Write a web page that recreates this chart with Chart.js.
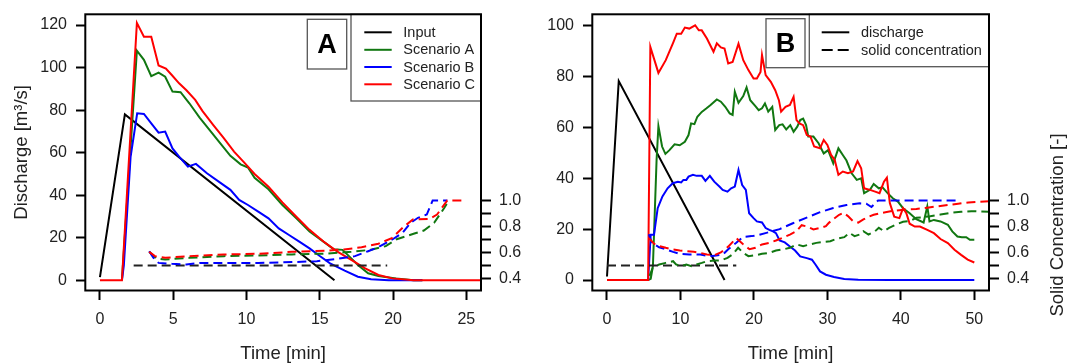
<!DOCTYPE html>
<html>
<head>
<meta charset="utf-8">
<script src="https://cdn.jsdelivr.net/npm/chart.js@4.4.0/dist/chart.umd.min.js"></script>
<style>
  body { margin: 0; background: #fff; }
  #wrap { position: relative; width: 1067px; height: 363px; }
  canvas { position: absolute; top: 0; }
  #chartA { left: 0; }
  #chartB { left: 533px; }
</style>
</head>
<body>
<div id="wrap">
  <canvas id="chartA" width="533" height="363"></canvas>
  <canvas id="chartB" width="534" height="363"></canvas>
</div>
<script>
// ---- panel A : discharge [m3/s] over time [min] ----
var aInput = [[0,1.5],[1.7,78],[16,0]];
var aScenA = [[1.5,0],[2.52,107.9],[3.0,103.6],[3.5,96],[4.0,97.6],[4.45,95.7],[4.95,88.7],[5.5,88.4],[6.1,83.2],[6.8,76.5],[7.5,70.5],[8.2,64.5],[8.9,58.5],[9.6,54.5],[10.1,53],[10.55,48.2],[11.5,42.8],[12.45,35.4],[13.4,29.1],[14.3,22.9],[15.25,18.2],[15.95,14.6],[16.55,14.3],[17.15,10.3],[17.6,7.2],[18.3,3.3],[19,2],[20.2,0.8],[21.4,0],[22,0]];
var aScenB = [[1.5,0],[1.63,7],[2.09,58],[2.54,78.5],[3.0,78.2],[3.5,73.8],[4.0,69.4],[4.45,69.9],[4.95,62],[5.4,58.1],[6.0,53.4],[6.55,54.7],[7.3,50.3],[8.2,45.9],[8.9,42.5],[9.5,37.8],[10.1,35.4],[10.8,32.3],[11.5,29.1],[12.2,24.4],[12.9,21.3],[13.6,18.2],[14.3,15],[15.0,11.4],[15.7,8],[16.7,4.5],[17.6,1.7],[18.5,0.5],[19.7,0],[22,0]];
var aScenC = [[0,0],[1.5,0],[2.52,121],[3.0,114.5],[3.5,114.5],[4.0,101],[4.5,99.5],[4.9,96.5],[5.4,92.6],[5.9,89.3],[6.5,84.8],[7.0,79.5],[7.75,72.8],[8.45,66.8],[9.15,60.5],[9.85,55.3],[10.55,50],[11.5,44],[12.45,36.6],[13.4,29.9],[14.3,23.7],[15.25,18.2],[16.2,13.5],[17.15,9.6],[18.1,5.6],[19.0,2.5],[19.95,0.9],[21.4,0],[26,0]];
// ---- panel A : solid concentration [-] ----
var aConcInput = [[2.3,0.5],[19.6,0.5]];
var aConcA = [[3.36,0.605],[3.85,0.554],[4.45,0.546],[6.1,0.559],[8.45,0.572],[10.8,0.577],[13.1,0.585],[15.5,0.592],[17.15,0.605],[18.5,0.621],[19.5,0.649],[20.2,0.7],[21.4,0.744],[22.1,0.769],[22.8,0.828],[23.5,0.944],[23.8,1.0]];
var aConcB = [[3.36,0.61],[3.64,0.56],[4.0,0.52],[4.9,0.513],[5.9,0.508],[6.8,0.52],[10.8,0.52],[13.1,0.526],[14.8,0.533],[16.2,0.551],[17.4,0.572],[18.3,0.61],[19.0,0.641],[19.95,0.7],[20.65,0.751],[21.2,0.828],[21.7,0.867],[22.3,0.892],[22.7,1.0],[23.7,1.0]];
var aConcC = [[3.36,0.605],[3.75,0.572],[4.45,0.559],[6.1,0.572],[8.45,0.585],[10.8,0.59],[13.1,0.605],[15.5,0.615],[16.65,0.623],[17.85,0.641],[19.0,0.667],[19.95,0.713],[20.65,0.79],[21.35,0.854],[22.5,0.859],[23.0,0.892],[23.7,1.0],[24.9,1.0]];

// ---- panel B : discharge ----
var bInput = [[0,1.4],[1.6,78.1],[16,0]];
var bScenA = [[0,0],[5.6,0],[5.95,0.5],[6.25,5.4],[6.75,47.1],[7.0,60.4],[7.5,52.4],[7.95,49.5],[8.5,51],[9.2,53.3],[9.9,52.9],[10.6,54.3],[11.1,56.9],[11.45,61.5],[11.9,61.2],[12.3,64.1],[12.9,66],[13.55,67.4],[14.1,68.7],[14.95,70.9],[15.5,70],[16.1,68],[16.7,65.4],[17.1,64.8],[17.4,73.9],[17.9,69.6],[18.55,72.2],[19.0,75.6],[19.5,70.6],[20.2,68.3],[20.65,66.7],[21.1,67.4],[21.5,69.3],[21.95,66.1],[22.5,68],[22.9,58.9],[23.45,60.8],[23.9,61.1],[24.4,59.1],[24.95,60.8],[25.4,58.2],[25.9,60.2],[26.3,62.8],[26.7,63.4],[27.1,60.8],[27.4,56.3],[28.1,56.3],[28.8,53.7],[29.5,49.7],[30.1,51],[30.8,45.8],[31.5,51.7],[32.1,49.1],[32.6,46.9],[33.3,41.9],[34.0,39.3],[34.6,39.9],[35.0,34.1],[35.8,35.4],[36.3,37.7],[37.0,36],[37.5,36.4],[38.2,34.1],[38.9,32.1],[39.6,30.8],[40.3,28.2],[41.2,26.2],[42.1,23.9],[43.1,22.6],[43.6,28.9],[43.9,23],[44.5,23.6],[45.4,23],[46.4,21.7],[47.0,19.1],[47.7,17.1],[48.3,16.8],[48.9,16.8],[49.4,15.8],[50,15.8]];
var bScenB = [[0,0],[5.6,0],[5.95,17.8],[6.4,17.8],[6.9,28.2],[7.55,32.8],[8.25,36],[8.95,38],[9.65,38.6],[10.1,38.3],[10.4,39.3],[10.8,39.3],[11.1,40.6],[11.7,41.3],[12.2,40.9],[12.9,40.9],[13.4,38.9],[14.0,40.9],[14.6,38.6],[15.3,36.7],[15.75,35.4],[16.4,34.7],[16.9,36],[17.4,36.7],[17.9,43.2],[18.4,37.3],[18.9,35.4],[19.35,26.2],[19.95,24.3],[20.4,23],[21.1,22.6],[21.6,20.4],[22.1,19.7],[22.6,19.1],[23.0,18.4],[23.5,15.5],[24.2,14.8],[24.9,13.2],[25.6,11.6],[26.3,9.3],[27.2,8.6],[27.9,8.0],[28.4,6.0],[29.0,3.4],[29.8,2.1],[30.9,1.2],[32.3,0.4],[34.2,0.1],[38.4,0],[50,0]];
var bScenC = [[0,0],[5.6,0],[5.9,91.5],[7.0,81.3],[8.0,86.3],[9.0,93.1],[9.5,96.7],[10.1,96.7],[10.6,99.1],[11.2,98.7],[12.0,100],[12.5,98],[12.9,98],[13.6,94.8],[14.5,89.6],[14.95,92.9],[15.5,91.3],[16.0,90.9],[16.5,85],[17.1,85.6],[17.9,92.8],[18.55,86.3],[19.25,82.4],[19.95,79.1],[20.4,79.1],[20.9,81.7],[21.1,88.3],[21.6,80.4],[22.3,77.8],[22.9,74.5],[23.4,70.6],[23.7,66.1],[24.3,68],[24.9,68.7],[25.4,71.9],[25.8,62.8],[26.2,61.5],[26.7,60.8],[27.2,56.9],[27.7,56.3],[28.2,52.4],[29.0,51.7],[29.5,55],[30.0,53],[30.5,49.1],[31.0,47.1],[31.5,41.3],[32.1,42.6],[32.8,41.9],[33.5,42.6],[34.1,46.7],[34.6,43.9],[35.0,36],[35.8,35.4],[36.5,34.7],[37.1,34.1],[37.7,38.6],[38.1,40.2],[38.5,30.2],[39.1,24.9],[39.8,24.3],[40.3,28.2],[40.75,26.2],[41.2,22.1],[41.9,21],[42.6,21],[43.6,19.7],[44.5,18.4],[45.4,16.1],[46.4,14.5],[47.3,11.9],[48.2,9.9],[49.1,8],[50,6.9]];
// ---- panel B : solid concentration ----
var bConcInput = [[0,0.5],[17.6,0.5]];
var bConcA = [[5.8,0.42],[6.2,0.48],[7.1,0.508],[8.0,0.52],[9.0,0.533],[9.4,0.508],[10.1,0.495],[10.8,0.508],[11.5,0.495],[12.2,0.508],[12.9,0.52],[13.6,0.533],[14.6,0.538],[15.5,0.538],[16.4,0.559],[17.1,0.585],[17.85,0.636],[18.55,0.597],[19.25,0.572],[20.2,0.579],[21.1,0.59],[22.05,0.597],[23.0,0.615],[23.9,0.623],[24.9,0.636],[25.8,0.662],[26.7,0.649],[27.6,0.662],[28.5,0.674],[29.5,0.682],[30.4,0.687],[31.4,0.708],[32.3,0.718],[33.0,0.751],[33.7,0.726],[34.4,0.738],[34.9,0.764],[35.6,0.738],[36.5,0.764],[37.0,0.79],[37.7,0.764],[38.4,0.79],[39.35,0.815],[40.3,0.836],[41.2,0.841],[42.1,0.867],[43.1,0.872],[44.0,0.879],[45.4,0.892],[46.8,0.905],[48.2,0.913],[49.6,0.918],[52,0.913]];
var bConcB = [[5.7,0.74],[6.1,0.675],[7.1,0.64],[8.0,0.624],[9.0,0.605],[9.9,0.59],[11.2,0.585],[12.7,0.585],[13.6,0.575],[14.4,0.573],[15.8,0.585],[16.5,0.625],[17.6,0.675],[18.5,0.72],[19.7,0.726],[20.65,0.735],[21.7,0.751],[23.5,0.78],[25.3,0.825],[27.1,0.866],[29.0,0.91],[30.8,0.942],[32.6,0.965],[34.4,0.978],[35.3,0.975],[36.0,0.95],[36.9,1.0],[48,1.0]];
var bConcC = [[5.7,0.71],[6.4,0.667],[7.1,0.649],[8.0,0.636],[9.0,0.623],[9.9,0.615],[10.8,0.61],[11.8,0.605],[12.7,0.597],[13.6,0.585],[14.6,0.579],[15.5,0.6],[16.5,0.645],[17.6,0.71],[18.5,0.665],[19.4,0.625],[20.2,0.636],[21.1,0.662],[22.05,0.674],[23.0,0.692],[23.9,0.713],[24.9,0.738],[25.8,0.764],[26.5,0.81],[27.2,0.8],[28.1,0.777],[29.1,0.79],[29.8,0.803],[30.2,0.828],[30.9,0.86],[31.6,0.89],[32.2,0.905],[32.8,0.88],[33.5,0.84],[34.2,0.83],[34.9,0.854],[35.6,0.875],[36.3,0.89],[37.0,0.9],[37.9,0.91],[38.9,0.92],[39.8,0.925],[40.7,0.93],[42.1,0.935],[43.6,0.945],[45,0.955],[46.4,0.965],[47.8,0.975],[49.2,0.985],[52,0.995]];

// ---- ticks and labels ----
var aTimeTicks = [0, 5, 10, 15, 20, 25];
var bTimeTicks = [0, 10, 20, 30, 40, 50];
var aDischargeTicks = [0, 20, 40, 60, 80, 100, 120];
var bDischargeTicks = [0, 20, 40, 60, 80, 100];
var concTicks = [0.4, 0.5, 0.6, 0.7, 0.8, 0.9, 1.0];
var concLabelled = [0.4, 0.6, 0.8, 1.0];
var aLegend = ["Input", "Scenario A", "Scenario B", "Scenario C"];
var bLegend = ["discharge", "solid concentration"];

var BLACK = "#000000", GREEN = "#117711", BLUE = "#0000ff", RED = "#ff0000";
var FAMILY = '"Liberation Sans", Arial, sans-serif';
var DASH = [9, 5];

Chart.defaults.font.family = FAMILY;
Chart.defaults.color = "#222";
Chart.defaults.animation = false;

function series(arr, color, axis, dashed, label) {
    return {
        label: label,
        data: arr.map(function (p) { return {x: p[0], y: p[1]}; }),
        borderColor: color,
        backgroundColor: color,
        borderWidth: 2,
        borderDash: dashed ? DASH : [],
        pointRadius: 0,
        tension: 0,
        fill: false,
        yAxisID: axis
    };
}

// later datasets are drawn on top
function stack(list) {
    list.forEach(function (d, i) { d.order = list.length - i; });
    return list;
}

function setTicks(values) {
    return function (scale) {
        scale.ticks = values.map(function (v) { return {value: v}; });
    };
}

function timeAxis(min, max, ticks) {
    return {
        type: "linear", min: min, max: max,
        afterBuildTicks: setTicks(ticks),
        afterFit: function (s) { s.height = 72.5; s.paddingLeft = 0; s.paddingRight = 0; },
        grid: {drawOnChartArea: false, tickLength: 9.5, tickWidth: 2, tickColor: BLACK},
        border: {display: false},
        ticks: {padding: 10, font: {size: 16}, autoSkip: false, maxRotation: 0},
        title: {display: true, text: "Time [min]", font: {size: 18.5, lineHeight: 1}, padding: 0}
    };
}

function dischargeAxis(min, max, ticks, width, title) {
    return {
        type: "linear", position: "left", min: min, max: max,
        afterBuildTicks: setTicks(ticks),
        afterFit: function (s) { s.width = width; s.paddingTop = 0; s.paddingBottom = 0; },
        grid: {drawOnChartArea: false, tickLength: 9.3, tickWidth: 2, tickColor: BLACK},
        border: {display: false},
        ticks: {padding: 9, font: {size: 16}, autoSkip: false},
        title: {display: !!title, text: title || "", font: {size: 18.5, lineHeight: 1}, padding: {top: 12.5, bottom: 0}}
    };
}

function concAxis(width) {
    return {
        type: "linear", position: "right", min: 0.3077, max: 2.432,
        afterBuildTicks: setTicks(concTicks),
        afterFit: function (s) { s.width = width; s.paddingTop = 0; s.paddingBottom = 0; },
        grid: {drawOnChartArea: false, tickLength: 10, tickWidth: 2, tickColor: BLACK},
        border: {display: false},
        ticks: {
            padding: 8, font: {size: 16}, autoSkip: false,
            callback: function (v) {
                return concLabelled.indexOf(Math.round(v * 10) / 10) >= 0 ? v.toFixed(1) : "";
            }
        }
    };
}

// box round the plot, panel letter, legend, right axis title
var panelDecor = {
    id: "panelDecor",
    afterDraw: function (chart, args, o) {
        var ctx = chart.ctx, a = chart.chartArea;
        ctx.save();
        // legend box
        ctx.fillStyle = "#fff";
        ctx.fillRect(o.legendLeft, a.top, a.right - o.legendLeft, o.legendBottom - a.top);
        ctx.strokeStyle = "#555";
        ctx.lineWidth = 1.3;
        ctx.strokeRect(o.legendLeft, a.top, a.right - o.legendLeft, o.legendBottom - a.top);
        ctx.font = "14.5px " + FAMILY;
        ctx.textAlign = "left";
        ctx.textBaseline = "middle";
        o.items.forEach(function (it, i) {
            var y = o.rowY[i];
            ctx.beginPath();
            ctx.setLineDash(it.dash || []);
            ctx.strokeStyle = it.color;
            ctx.lineWidth = 2;
            ctx.moveTo(o.lineX[0], y);
            ctx.lineTo(o.lineX[1], y);
            ctx.stroke();
            ctx.setLineDash([]);
            ctx.fillStyle = "#222";
            ctx.fillText(it.text, o.textX, y + 0.5);
        });
        // panel letter
        var b = o.letterBox;
        ctx.strokeStyle = "#555";
        ctx.lineWidth = 1.3;
        ctx.strokeRect(b[0], b[1], b[2] - b[0], b[3] - b[1]);
        ctx.fillStyle = "#000";
        ctx.font = "bold 27px " + FAMILY;
        ctx.textAlign = "center";
        ctx.fillText(o.letter, (b[0] + b[2]) / 2, (b[1] + b[3]) / 2 + 1);
        // plot frame
        ctx.strokeStyle = BLACK;
        ctx.lineWidth = 2;
        ctx.strokeRect(a.left, a.top, a.right - a.left, a.bottom - a.top);
        if (o.rightTitle) {
            ctx.translate(o.rightTitle.x, o.rightTitle.y);
            ctx.rotate(-Math.PI / 2);
            ctx.fillStyle = "#222";
            ctx.font = "18.5px " + FAMILY;
            ctx.textAlign = "center";
            ctx.fillText(o.rightTitle.text, 0, 0);
        }
        ctx.restore();
    }
};

var chartA = new Chart(document.getElementById("chartA").getContext("2d"), {
    type: "line",
    data: {
        datasets: stack([
            series(aInput, BLACK, "y", false, aLegend[0]),
            series(aScenA, GREEN, "y", false, aLegend[1]),
            series(aScenB, BLUE, "y", false, aLegend[2]),
            series(aScenC, RED, "y", false, aLegend[3]),
            series(aConcInput, "#222", "y2", true),
            series(aConcA, GREEN, "y2", true),
            series(aConcB, BLUE, "y2", true),
            series(aConcC, RED, "y2", true)
        ])
    },
    options: {
        responsive: false,
        layout: {padding: {top: 14.3, left: 0, right: 0, bottom: 0}},
        scales: {
            x: timeAxis(-1, 26, aTimeTicks),
            y: dischargeAxis(-4.8, 125.03, aDischargeTicks, 85.3, "Discharge [m\u00b3/s]"),
            y2: concAxis(52)
        },
        plugins: {
            legend: {display: false},
            tooltip: {enabled: false},
            panelDecor: {
                letter: "A", letterBox: [307.3, 19.3, 346.7, 69],
                legendLeft: 351, legendBottom: 101,
                lineX: [364.3, 391.7], textX: 403.3, rowY: [32.3, 49.8, 67, 84.3],
                items: [
                    {text: aLegend[0], color: BLACK},
                    {text: aLegend[1], color: GREEN},
                    {text: aLegend[2], color: BLUE},
                    {text: aLegend[3], color: RED}
                ]
            }
        }
    },
    plugins: [panelDecor]
});

var chartB = new Chart(document.getElementById("chartB").getContext("2d"), {
    type: "line",
    data: {
        datasets: stack([
            series(bInput, BLACK, "y", false, bLegend[0]),
            series(bScenA, GREEN, "y", false),
            series(bScenB, BLUE, "y", false),
            series(bScenC, RED, "y", false),
            series(bConcInput, "#222", "y2", true, bLegend[1]),
            series(bConcA, GREEN, "y2", true),
            series(bConcB, BLUE, "y2", true),
            series(bConcC, RED, "y2", true)
        ])
    },
    options: {
        responsive: false,
        layout: {padding: {top: 14.3, left: 0, right: 0, bottom: 0}},
        scales: {
            x: timeAxis(-2, 52, bTimeTicks),
            y: dischargeAxis(-4.1, 104.3, bDischargeTicks, 59.3, null),
            y2: concAxis(78)
        },
        plugins: {
            legend: {display: false},
            tooltip: {enabled: false},
            panelDecor: {
                letter: "B", letterBox: [233, 18.7, 272, 67.7],
                legendLeft: 276.3, legendBottom: 66.7,
                lineX: [288.7, 316.3], textX: 328, rowY: [32.3, 50],
                items: [
                    {text: bLegend[0], color: BLACK},
                    {text: bLegend[1], color: BLACK, dash: [11, 5]}
                ],
                rightTitle: {text: "Solid Concentration [-]", x: 525, y: 225}
            }
        }
    },
    plugins: [panelDecor]
});
</script>
</body>
</html>
